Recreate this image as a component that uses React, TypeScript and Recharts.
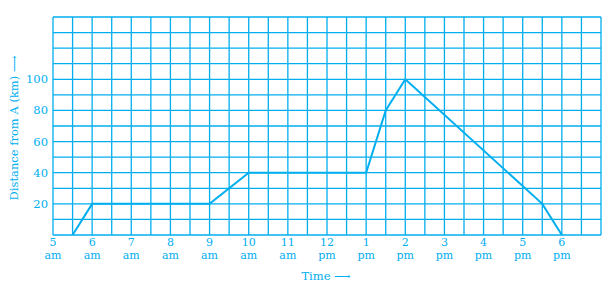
import { CartesianGrid, Line, LineChart, XAxis, YAxis } from "recharts";

const CYAN = "#00aeef";
const FONT = "'DejaVu Serif', serif";

// journey: time of day (hours, 24h) vs distance from A (km)
const time = [5.5, 6, 9, 10, 13, 13.5, 14, 17.5, 18];
const distance = [0, 20, 20, 40, 40, 80, 100, 20, 0];

// x axis labels
const hours = [5, 6, 7, 8, 9, 10, 11, 12, 13, 14, 15, 16, 17, 18];
const hourLabels = ["5", "6", "7", "8", "9", "10", "11", "12", "1", "2", "3", "4", "5", "6"];
const meridiem = ["am", "am", "am", "am", "am", "am", "am", "pm", "pm", "pm", "pm", "pm", "pm", "pm"];

// graph paper lines
const timeGrid = [
  5, 5.5, 6, 6.5, 7, 7.5, 8, 8.5, 9, 9.5, 10, 10.5, 11, 11.5, 12, 12.5,
  13, 13.5, 14, 14.5, 15, 15.5, 16, 16.5, 17, 17.5, 18, 18.5, 19,
];
const distanceGrid = [0, 10, 20, 30, 40, 50, 60, 70, 80, 90, 100, 110, 120, 130, 140];
const distanceLabels = [20, 40, 60, 80, 100];

const data = time.map((t, i) => ({ time: t, distance: distance[i] }));

function TimeTick(props: any) {
  const { x, y, payload } = props;
  const i = hours.indexOf(payload.value);
  if (i < 0) return null;
  return (
    <g fill={CYAN} fontFamily={FONT} fontSize={11}>
      <text x={x} y={y + 11} textAnchor="middle">{hourLabels[i]}</text>
      <text x={x} y={y + 24} textAnchor="middle">{meridiem[i]}</text>
    </g>
  );
}

function DistanceTick(props: any) {
  const { x, y, payload } = props;
  if (!distanceLabels.includes(payload.value)) return null;
  return (
    <text x={x - 5} y={y + 4} textAnchor="end" fill={CYAN} fontFamily={FONT} fontSize={11.5}>
      {payload.value}
    </text>
  );
}

const timeTitle = () => (
  <text x={326} y={280} textAnchor="middle" fill={CYAN} fontFamily={FONT} fontSize={11.5}>
    Time ⟶
  </text>
);

const distanceTitle = () => (
  <text
    x={15}
    y={128}
    transform="rotate(-90 15 128)"
    textAnchor="middle"
    dominantBaseline="middle"
    fill={CYAN}
    fontFamily={FONT}
    fontSize={11.5}
  >
    Distance from A (km) ⟶
  </text>
);

export default function App() {
  return (
    <div style={{ position: "absolute", left: 0, top: 0 }}>
      <LineChart width={613} height={295} data={data} margin={{ top: 17, right: 12, bottom: 0, left: 0 }}>
        <CartesianGrid stroke={CYAN} strokeWidth={1.3} />
        <XAxis
          dataKey="time"
          type="number"
          domain={[5, 19]}
          ticks={timeGrid}
          interval={0}
          tick={TimeTick}
          tickSize={0}
          tickMargin={0}
          axisLine={false}
          tickLine={false}
          height={60}
          label={{ value: "Time", content: timeTitle }}
        />
        <YAxis
          type="number"
          domain={[0, 140]}
          ticks={distanceGrid}
          interval={0}
          tick={DistanceTick}
          tickSize={0}
          tickMargin={0}
          axisLine={false}
          tickLine={false}
          width={53}
          label={{ value: "Distance", content: distanceTitle }}
        />
        <Line
          dataKey="distance"
          type="linear"
          stroke={CYAN}
          strokeWidth={2}
          dot={false}
          isAnimationActive={false}
        />
      </LineChart>
    </div>
  );
}
